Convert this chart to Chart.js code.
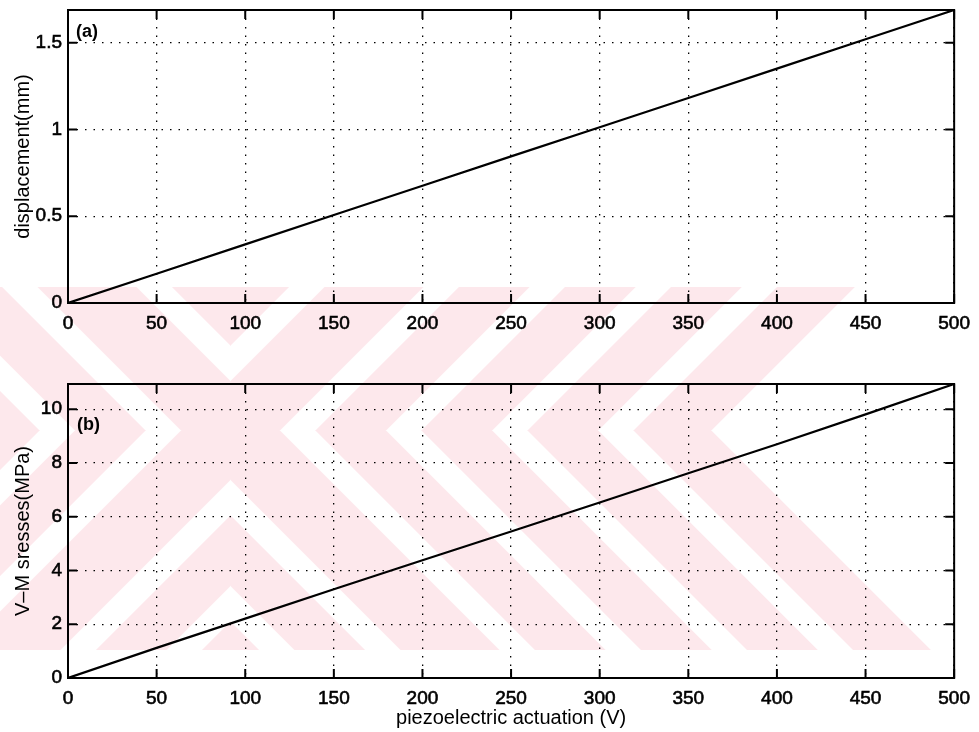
<!DOCTYPE html>
<html lang="en">
<head>
<meta charset="UTF-8">
<title>Piezoelectric actuation</title>
<script src="https://cdn.jsdelivr.net/npm/chart.js"></script>
<style>
  body { margin: 0; background: #fff; }
  #page { position: relative; width: 979px; height: 732px; }
  #wm { position: absolute; left: 0; top: 0; }
  .panel { position: absolute; left: 0; width: 979px; height: 366px; }
</style>
</head>
<body>
<div id="page">
  <canvas id="wm" width="979" height="732"></canvas>
  <div class="panel" style="top:0"><canvas id="dispChart" width="979" height="366"></canvas></div>
  <div class="panel" style="top:366px"><canvas id="stressChart" width="979" height="366"></canvas></div>
</div>
<script>
// actuation voltage (V) and the two responses
const voltage      = [0, 50, 100, 150, 200, 250, 300, 350, 400, 450, 500];
const displacement = [0, 0.169, 0.338, 0.507, 0.676, 0.845, 1.013, 1.182, 1.351, 1.520, 1.689];
const vmStress     = [0, 1.12, 2.21, 3.30, 4.38, 5.45, 6.53, 7.62, 8.70, 9.81, 10.94];

const voltTicks   = [0, 50, 100, 150, 200, 250, 300, 350, 400, 450, 500];
const dispTicks   = [0, 0.5, 1, 1.5];
const stressTicks = [0, 2, 4, 6, 8, 10];

Chart.defaults.font.family = '"Liberation Sans", Arial, Helvetica, sans-serif';
Chart.defaults.color = '#000';

// pale pink watermark behind both panels: nested chevrons around one diagonal cross
(function drawWatermark() {
  const cv = document.getElementById('wm');
  const g = cv.getContext('2d');
  const img = g.createImageData(cv.width, cv.height);
  const cx = 230, cy = 430, top = 287, bottom = 650;
  const bands = [[-1, 35], [60, 110], [135, 185], [210, 260], [285, 340]];
  for (let y = top; y < bottom; y++) {
    for (let x = 0; x < cv.width; x++) {
      const dx = x - cx, dy = y - cy;
      const f = Math.min(Math.abs(dx + dy), Math.abs(dx - dy)) / Math.SQRT2;
      let c = 0;
      bands.forEach(([a, b]) => {
        c = Math.max(c, Math.min(1, Math.max(0, Math.min(f - a, b - f) + 0.5)));
      });
      const i = (y * cv.width + x) * 4;
      img.data[i] = 253; img.data[i + 1] = 232; img.data[i + 2] = 236;
      img.data[i + 3] = Math.round(c * 255);
    }
  }
  g.putImageData(img, 0, 0);
})();

// matlab-ish box with inward tick marks, plus the (a)/(b) tag
const frame = {
  id: 'frame',
  afterDatasetsDraw(chart, args, opts) {
    const { ctx, chartArea: a, scales: { x, y } } = chart;
    const len = 9;
    ctx.save();
    ctx.strokeStyle = '#000';
    ctx.lineWidth = 2;
    ctx.beginPath();
    x.ticks.forEach(t => {
      const px = x.getPixelForValue(t.value);
      ctx.moveTo(px, a.bottom); ctx.lineTo(px, a.bottom - len);
      ctx.moveTo(px, a.top);    ctx.lineTo(px, a.top + len);
    });
    y.ticks.forEach(t => {
      const py = y.getPixelForValue(t.value);
      ctx.moveTo(a.left, py);  ctx.lineTo(a.left + len, py);
      ctx.moveTo(a.right, py); ctx.lineTo(a.right - len, py);
    });
    ctx.stroke();
    ctx.strokeRect(a.left, a.top, a.width, a.height);

    ctx.font = 'bold 18px "Liberation Sans", Arial, sans-serif';
    ctx.fillStyle = '#000';
    ctx.textBaseline = 'middle';
    ctx.fillText(opts.tag, a.left + opts.dx, a.top + opts.dy);
    ctx.restore();
  }
};

function makeChart(id, values, yTicks, yTitle, opts) {
  return new Chart(document.getElementById(id), {
    type: 'line',
    data: {
      labels: voltage,
      datasets: [{
        data: voltage.map((v, i) => ({ x: v, y: values[i] })),
        borderColor: '#000',
        borderWidth: 2.2,
        pointRadius: 0,
        tension: 0,
        fill: false
      }]
    },
    options: {
      responsive: false,
      animation: false,
      layout: { padding: { top: opts.padTop, right: 22, left: 0, bottom: 0 } },
      plugins: {
        legend: { display: false },
        tooltip: { enabled: false },
        frame: { tag: opts.tag, dx: opts.tagDx, dy: opts.tagDy }
      },
      scales: {
        x: {
          type: 'linear',
          min: 0,
          max: 500,
          afterBuildTicks: s => { s.ticks = voltTicks.map(v => ({ value: v })); },
          afterFit: s => { s.height = opts.xHeight; },
          grid: { color: '#000', lineWidth: 1.3, drawTicks: false },
          border: { display: false, dash: [1.5, 7] },
          ticks: { padding: 9, font: { size: 19 }, maxRotation: 0,
                   textStrokeColor: '#000', textStrokeWidth: 0.6 },
          title: {
            display: !!opts.xTitle,
            text: opts.xTitle || '',
            font: { size: 20 },
            padding: { top: 0, bottom: 2 }
          }
        },
        y: {
          min: 0,
          max: values[values.length - 1],
          afterBuildTicks: s => { s.ticks = yTicks.map(v => ({ value: v })); },
          afterFit: s => { s.width = 68; s.paddingTop = 0; s.paddingBottom = 0; },
          grid: { color: '#000', lineWidth: 1.3, drawTicks: false },
          border: { display: false, dash: [1.5, 7] },
          ticks: { padding: 6, font: { size: 19 }, callback: v => String(v),
                   textStrokeColor: '#000', textStrokeWidth: 0.6 },
          title: {
            display: true,
            text: yTitle,
            font: { size: 20 },
            padding: { top: 11, bottom: 0 }
          }
        }
      }
    },
    plugins: [frame]
  });
}

makeChart('dispChart', displacement, dispTicks, 'displacement(mm)',
  { padTop: 10, xHeight: 63, tag: '(a)', tagDx: 8, tagDy: 22 });

makeChart('stressChart', vmStress, stressTicks, 'V\u2013M sresses(MPa)',
  { padTop: 18, xHeight: 54, tag: '(b)', tagDx: 9, tagDy: 41,
    xTitle: 'piezoelectric actuation (V)' });
</script>
</body>
</html>
